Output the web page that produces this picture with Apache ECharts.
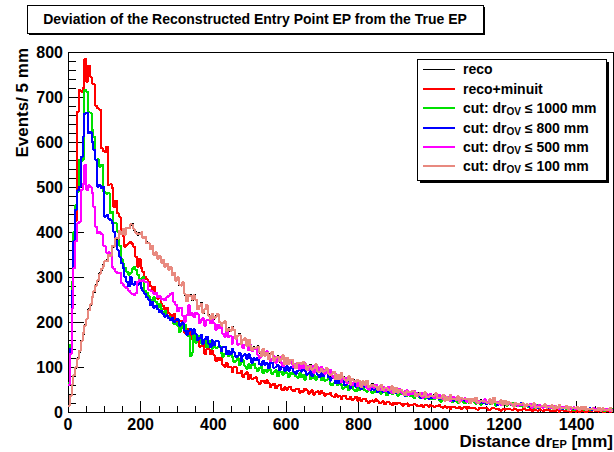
<!DOCTYPE html>
<html>
<head>
<meta charset="utf-8">
<script src="https://cdn.jsdelivr.net/npm/echarts@6/dist/echarts.min.js"></script>
<style>
html,body{margin:0;padding:0;background:#fff;}
#c{width:614px;height:452px;}
#c svg path{shape-rendering:crispEdges;}
</style>
</head>
<body>
<div id="c"></div>
<script>
// ---- data: events per 5 mm bin, bin i starts at i*5 mm ----
const binWidth = 5;
const xTicks = [0, 200, 400, 600, 800, 1000, 1200, 1400];
const yTicks = [0, 100, 200, 300, 400, 500, 600, 700, 800];

const reco = [
 12,38,58,84,97,121,133,160,172,195,205,229,236,258,265,284,290,309,315,327,
 334,338,348,350,365,370,383,388,400,399,405,397,408,411,414,419,404,401,393,399,
 397,390,388,378,374,365,367,352,353,343,345,335,336,326,328,319,321,308,307,295,
 302,281,283,286,260,248,258,261,248,261,247,230,234,243,219,230,236,216,204,220,
 206,215,216,201,190,199,200,179,187,179,190,181,165,168,174,150,161,162,149,159,
 148,136,145,140,147,131,127,138,127,130,116,130,131,116,119,125,111,119,124,108,
 119,109,113,117,104,99,107,110,104,113,105,96,99,105,92,99,104,92,87,97,
 88,94,96,87,80,87,88,75,81,76,85,79,70,72,77,63,72,72,65,73,
 66,58,66,63,68,57,55,63,56,58,48,58,59,50,51,55,46,52,55,45,
 52,45,48,51,42,39,44,46,42,48,43,37,39,44,34,39,42,35,31,38,
 34,38,40,33,30,34,36,27,32,29,36,32,27,29,33,23,29,31,26,31,
 28,22,28,26,30,23,21,27,22,25,19,24,26,20,30,24,18,21,24,18,
 23,18,20,22,16,14,18,19,16,21,17,13,15,17,12,16,17,12,10,14,
 11,15,15,12,10,13,13,8,11,10,13,11,8,10,11,6,10,11,8,11,
 9,6,9,8,10,6,5,9,6,7,3,7,8,5,6,7,3,6,7,4
];
const recoMinuit = [
 60,150,250,400,425,667,716,712,720,785,734,770,745,730,728,680,675,672,586,580,
 578,590,504,506,498,456,470,442,434,404,390,367,372,375,378,373,367,345,323,340,
 320,312,300,295,290,280,270,278,262,252,255,240,235,228,232,220,215,210,218,205,
 194,202,203,187,176,184,184,163,170,161,171,161,145,147,153,129,140,140,128,137,
 126,113,121,115,120,104,101,109,99,101,88,99,99,86,87,91,78,84,88,73,
 82,73,75,77,67,62,68,69,64,71,64,56,59,63,53,58,61,52,48,55,
 49,55,56,49,46,51,52,43,47,45,52,48,41,45,48,38,44,46,40,47,
 42,36,41,40,43,35,33,39,34,36,28,36,36,29,30,33,26,30,34,25,
 31,25,28,30,24,20,25,26,23,28,24,19,21,24,17,22,23,18,15,21,
 17,20,21,18,14,18,19,13,16,15,18,16,13,14,16,11,15,15,12,16,
 14,11,13,12,15,11,9,13,10,12,7,12,12,9,10,11,7,10,12,7,
 11,8,10,10,7,5,8,9,8,10,8,5,6,9,9,7,8,5,3,7,
 5,7,8,6,4,6,6,3,5,4,7,6,4,4,6,2,5,5,3,6,
 4,2,5,4,6,2,2,4,2,4,1,4,4,2,3,4,1,2,4,1,
 3,1,2,4,1,1,2,3,2,4,2,1,2,3,0,1,2,1,0,2
];
const cut1000 = [
 65,150,290,400,460,490,560,558,562,716,712,667,665,627,612,560,562,545,550,490,
 488,485,487,442,445,419,420,400,370,340,330,320,312,305,310,318,322,316,305,295,
 290,300,270,265,258,250,238,255,245,232,240,228,222,225,215,212,205,208,195,198,
 192,178,191,186,194,174,169,125,132,172,154,169,170,152,154,161,144,153,158,141,
 155,142,144,147,131,123,130,133,124,132,123,111,114,120,104,111,115,102,96,106,
 98,105,107,97,91,98,100,87,94,89,99,93,84,88,93,79,89,90,83,92,
 86,78,86,84,90,79,76,86,78,83,72,83,84,74,76,82,71,78,82,71,
 79,70,72,74,63,59,64,66,60,67,60,52,55,59,49,54,58,49,46,53,
 48,53,55,48,45,50,52,42,47,44,52,47,41,44,48,37,44,45,40,46,
 42,36,42,40,44,36,35,41,36,38,31,38,39,32,33,36,29,33,37,28,
 34,28,31,33,27,23,28,29,26,31,27,23,24,28,21,25,27,22,19,25,
 21,24,26,22,18,22,23,16,20,19,23,21,17,19,26,14,19,20,16,20,
 17,14,17,16,20,14,13,17,14,15,11,16,16,11,13,15,10,13,15,10,
 13,10,12,12,8,7,10,11,9,12,10,7,8,10,6,8,10,7,4,8,
 6,8,9,6,4,7,7,4,5,4,7,6,4,5,6,2,5,5,3,6
];
const cut800 = [
 60,140,270,380,450,493,500,567,612,663,665,619,622,600,582,560,501,505,498,501,
 434,438,430,427,420,400,380,360,345,331,320,301,290,279,300,285,283,290,282,288,
 275,268,262,255,250,238,245,232,236,228,222,225,218,212,215,208,205,210,200,204,
 207,192,195,200,181,172,181,184,173,184,173,160,164,171,152,162,167,152,145,159,
 149,157,157,145,135,144,145,128,136,129,141,133,122,125,132,114,125,128,118,128,
 120,110,119,115,121,107,105,114,105,109,97,109,110,98,100,105,93,100,105,92,
 102,92,97,101,89,85,92,95,90,98,92,83,86,93,80,88,92,83,77,88,
 80,86,87,77,70,76,78,64,70,65,73,68,59,62,67,53,62,63,56,64,
 58,51,59,56,60,50,49,56,50,53,44,52,54,45,47,51,43,48,52,42,
 49,42,45,48,40,36,42,44,39,46,41,35,37,41,32,38,40,34,30,37,
 32,36,37,31,28,32,34,26,30,27,34,30,25,28,30,22,27,29,25,29,
 26,22,26,25,28,21,20,25,21,24,17,23,24,18,28,23,16,20,23,16,
 21,17,19,20,15,13,16,18,15,19,16,12,14,16,11,15,17,11,9,14,
 11,14,15,11,9,12,13,7,10,9,13,11,7,9,11,6,10,10,7,10,
 8,6,8,7,9,6,6,8,5,7,4,7,8,4,5,6,4,5,7,3
];
const cut500 = [
 60,130,230,320,380,419,422,493,507,549,493,504,500,486,456,412,397,400,395,370,
 368,353,355,350,323,318,312,308,310,286,282,278,275,270,265,262,260,264,290,293,
 291,294,290,288,272,270,268,262,265,255,258,250,252,248,255,258,262,264,245,238,
 224,231,230,213,201,215,237,215,219,211,221,217,198,205,208,192,204,204,197,206,
 197,183,194,187,193,173,167,179,166,169,152,166,167,150,152,158,142,150,155,137,
 148,135,139,143,127,120,129,133,125,135,126,114,118,124,109,117,123,109,102,115,
 106,114,116,106,99,107,109,95,103,98,108,103,93,96,102,87,97,100,92,101,
 95,85,92,88,93,80,76,84,75,78,67,76,76,65,66,71,60,66,70,58,
 66,58,60,63,54,50,56,59,54,61,56,48,51,56,46,52,55,47,43,50,
 45,50,51,45,41,46,48,38,42,40,47,43,36,39,43,32,39,40,35,41,
 36,31,36,35,38,31,29,35,30,33,25,33,33,27,27,31,25,28,31,23,
 29,24,26,29,23,19,24,25,22,28,23,19,21,24,28,22,23,18,16,21,
 17,21,21,18,15,18,19,14,16,15,20,16,13,15,18,10,15,16,12,16,
 13,10,13,12,14,10,9,13,9,11,7,12,11,8,9,11,7,9,11,6,
 10,7,8,9,6,5,7,7,6,8,7,4,5,6,4,5,7,4,2,5
];
const cut100 = [
 14,36,61,82,99,118,136,157,175,192,207,226,239,255,268,281,293,306,318,324,
 336,335,350,347,368,367,386,385,402,396,407,394,410,408,417,416,406,398,395,396,
 399,387,390,375,376,362,369,349,355,340,347,332,338,323,330,316,323,305,309,292,
 300,283,281,288,262,246,260,258,250,259,249,228,236,241,221,228,238,214,206,218,
 208,212,218,199,192,197,202,181,185,181,188,183,163,170,172,152,159,164,147,161,
 146,138,143,142,145,133,125,140,125,132,118,128,133,114,121,123,113,117,126,106,
 121,107,115,115,106,97,109,108,106,111,107,94,101,103,94,97,106,90,89,95,
 90,92,98,85,82,85,90,73,83,74,87,77,72,70,79,61,74,70,67,71,
 68,56,68,61,70,55,57,61,58,56,50,56,61,48,53,53,48,50,57,43,
 54,43,50,49,44,37,46,44,44,46,45,35,41,42,36,37,44,33,33,36,
 36,36,42,31,32,32,38,25,34,27,38,30,29,27,35,21,31,29,28,29,
 30,20,30,24,32,21,23,25,24,23,21,22,28,18,32,22,20,19,26,16,
 25,16,22,20,18,12,20,17,18,19,19,11,17,15,14,14,19,10,12,12,
 13,13,17,10,12,11,15,6,13,8,15,9,10,8,13,4,12,9,10,9,
 11,4,11,6,12,4,7,7,8,5,5,5,10,3,8,5,5,4,9,2
];

const seriesDefs = [
  {name: 'reco', data: reco, color: '#000000', width: 1},
  {name: 'reco+minuit', data: recoMinuit, color: '#ff0000', width: 2},
  {name: 'cut: dr_OV ≤ 1000 mm', data: cut1000, color: '#00e000', width: 2},
  {name: 'cut: dr_OV ≤ 800 mm', data: cut800, color: '#0000ff', width: 2},
  {name: 'cut: dr_OV ≤ 500 mm', data: cut500, color: '#ff00ff', width: 2},
  {name: 'cut: dr_OV ≤ 100 mm', data: cut100, color: '#e8897f', width: 2}
];

function toSteps(arr) {
  const pts = arr.map((v, i) => [i * binWidth, v]);
  pts.push([arr.length * binWidth, arr[arr.length - 1]]);
  return pts;
}

const FONT = '"Liberation Sans", Arial, Helvetica, sans-serif';
const chart = echarts.init(document.getElementById('c'), null, {renderer: 'svg'});

const legendLabels = [
  '{a|reco}',
  '{a|reco+minuit}',
  '{a|cut: dr}{s|OV}{a| ≤ 1000 mm}',
  '{a|cut: dr}{s|OV}{a| ≤ 800 mm}',
  '{a|cut: dr}{s|OV}{a| ≤ 500 mm}',
  '{a|cut: dr}{s|OV}{a| ≤ 100 mm}'
];
const richTxt = {
  a: {fontFamily: FONT, fontWeight: 'bold', fontSize: 14, lineHeight: 16, fill: '#000', verticalAlign: 'middle'},
  s: {fontFamily: FONT, fontWeight: 'bold', fontSize: 10, lineHeight: 10, padding: [9, 0, 0, 0], fill: '#000', verticalAlign: 'bottom'}
};

const legendTop = 59, legendLeft = 417, legendW = 189, legendH = 121;
const rowY = [69, 89, 108, 128, 147, 166];
const graphics = [
  {type: 'rect', shape: {x: 29, y: 7, width: 456, height: 28}, style: {fill: '#000'}, z: 10},
  {type: 'rect', shape: {x: 27, y: 5, width: 456, height: 28}, style: {fill: '#fff', stroke: '#000', lineWidth: 1}, z: 11},
  {type: 'text', x: 255, y: 19, z: 12, style: {text: 'Deviation of the Reconstructed Entry Point EP from the True EP', font: 'bold 14px ' + FONT, fill: '#000', align: 'center', verticalAlign: 'middle'}},
  {type: 'rect', shape: {x: legendLeft + 3, y: legendTop + 3, width: legendW, height: legendH}, style: {fill: '#000'}, z: 10},
  {type: 'rect', shape: {x: legendLeft, y: legendTop, width: legendW, height: legendH}, style: {fill: '#fff', stroke: '#000', lineWidth: 1}, z: 11},
  {type: 'text', x: 22, y: 48, rotation: Math.PI / 2, z: 12, style: {text: 'Events/ 5 mm', font: 'bold 17px ' + FONT, fill: '#000', align: 'right', verticalAlign: 'middle'}},
  {type: 'text', x: 613, y: 441, z: 12, style: {text: '{a|Distance dr}{s|EP}{a| [mm]}', align: 'right', verticalAlign: 'middle',
    rich: {
      a: {fontFamily: FONT, fontWeight: 'bold', fontSize: 17, lineHeight: 16, fill: '#000', verticalAlign: 'middle'},
      s: {fontFamily: FONT, fontWeight: 'bold', fontSize: 11, lineHeight: 10, padding: [8, 0, 0, 0], fill: '#000', verticalAlign: 'bottom'}
    }}}
];
seriesDefs.forEach((s, i) => {
  graphics.push({type: 'line', z: 12, shape: {x1: legendLeft + 6, y1: rowY[i], x2: legendLeft + 38, y2: rowY[i]}, style: {stroke: s.color, lineWidth: s.width}});
  graphics.push({type: 'text', z: 12, x: legendLeft + 46, y: rowY[i], style: {text: legendLabels[i], rich: richTxt, verticalAlign: 'middle', align: 'left'}});
});

const option = {
  animation: false,
  backgroundColor: '#fff',
  grid: {left: 68, top: 52, width: 545, height: 360, show: true, borderColor: '#000', borderWidth: 1, backgroundColor: 'transparent', containLabel: false},
  xAxis: [
    {
      type: 'value', min: xTicks[0], max: 1500, interval: xTicks[1] - xTicks[0], position: 'bottom',
      axisLine: {show: true, onZero: false, lineStyle: {color: '#000', width: 1}},
      axisTick: {show: true, inside: true, length: 11, lineStyle: {color: '#000', width: 1}},
      axisLabel: {show: true, color: '#000', fontFamily: FONT, fontWeight: 'bold', fontSize: 16, margin: 4, showMaxLabel: false,
        formatter: v => (xTicks.indexOf(v) >= 0 ? String(v) : '')},
      splitLine: {show: false}
    },
    {
      type: 'value', min: 0, max: 1500, interval: 50, position: 'bottom', gridIndex: 0,
      axisLine: {show: false},
      axisTick: {show: true, inside: true, length: 6, lineStyle: {color: '#000', width: 1}},
      axisLabel: {show: false},
      splitLine: {show: false}
    }
  ],
  yAxis: {
    type: 'value', min: yTicks[0], max: yTicks[yTicks.length - 1], interval: yTicks[1] - yTicks[0],
    axisLine: {show: true, onZero: false, lineStyle: {color: '#000', width: 1}},
    axisTick: {show: true, inside: true, length: 16, lineStyle: {color: '#000', width: 1}},
    minorTick: {show: true, splitNumber: 5, length: 8, lineStyle: {color: '#000', width: 1}},
    axisLabel: {show: true, color: '#000', fontFamily: FONT, fontWeight: 'bold', fontSize: 16, margin: 5},
    splitLine: {show: false}, minorSplitLine: {show: false}
  },
  series: seriesDefs.map((s, i) => ({
    name: s.name, type: 'line', step: 'end', xAxisIndex: 0, yAxisIndex: 0,
    data: toSteps(s.data), showSymbol: false, symbol: 'none', clip: true,
    lineStyle: {color: s.color, width: s.width}, itemStyle: {color: s.color},
    z: 2 + i, silent: true
  })),
  graphic: graphics
};
chart.setOption(option);
</script>
</body>
</html>
